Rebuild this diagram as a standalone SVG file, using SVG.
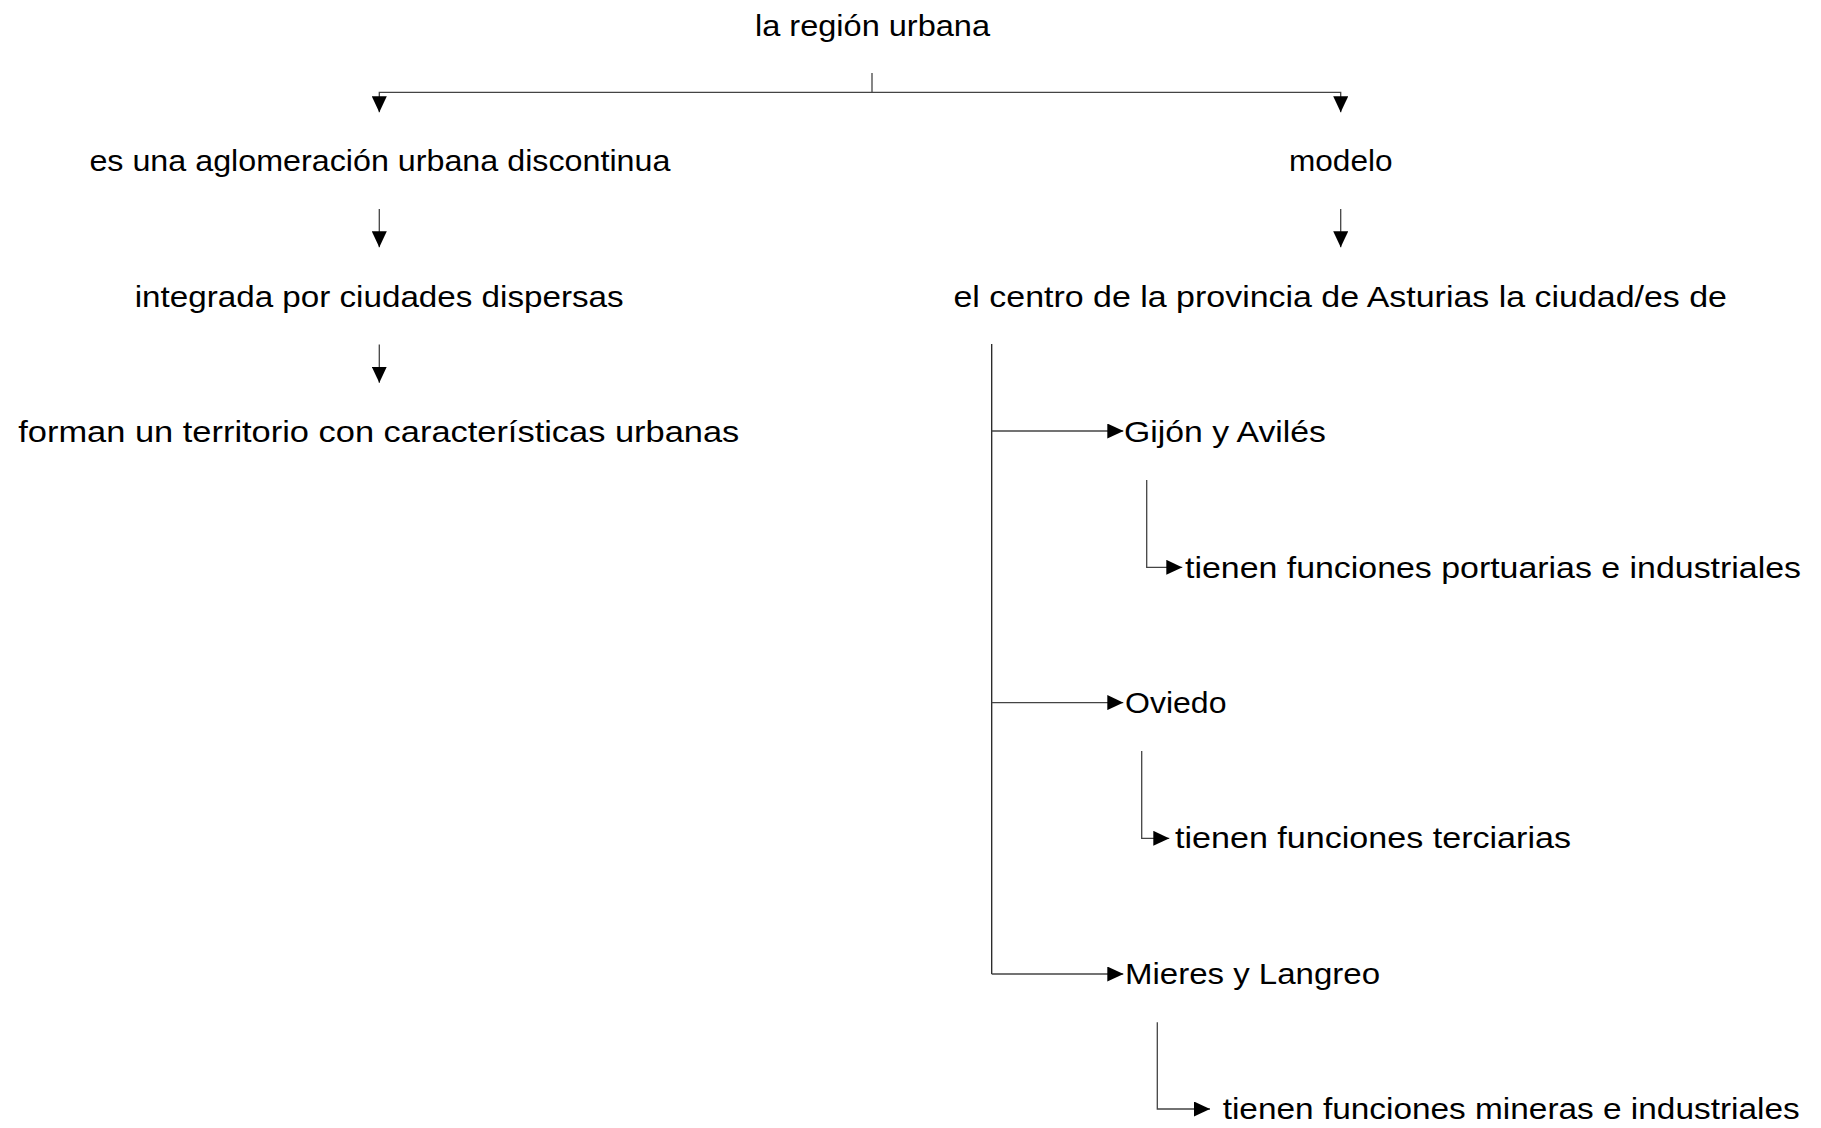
<svg xmlns="http://www.w3.org/2000/svg" width="1821" height="1128" viewBox="0 0 1821 1128">
<style>
  .t { font-family: "Liberation Sans", Arial, sans-serif; font-size: 30px; fill: #000; }
  .c { fill: none; stroke: #444; stroke-width: 1.3; }
</style>
<defs>
  <marker id="ah" viewBox="0 0 16 15" refX="16" refY="7.5" markerWidth="16" markerHeight="15" markerUnits="userSpaceOnUse" orient="auto">
    <path d="M0,0 L16,7.5 L0,15 z" fill="#000"/>
  </marker>
</defs>
<rect width="1821" height="1128" fill="#fff"/>
<g id="connectors">
  <path class="c" d="M872,73 V92.3"/>
  <path class="c" d="M872,92.3 H379.3 V112.3" marker-end="url(#ah)"/>
  <path class="c" d="M872,92.3 H1340.7 V112.3" marker-end="url(#ah)"/>
  <path class="c" d="M379.3,209 V247.3" marker-end="url(#ah)"/>
  <path class="c" d="M379.3,344.4 V382.7" marker-end="url(#ah)"/>
  <path class="c" d="M1340.7,209 V247.3" marker-end="url(#ah)"/>
  <path class="c" d="M991.7,344 V974" style="stroke:#222"/>
  <path class="c" d="M991.7,431 H1123.3" marker-end="url(#ah)"/>
  <path class="c" d="M991.7,702.6 H1123.3" marker-end="url(#ah)"/>
  <path class="c" d="M991.7,974 H1123.3" marker-end="url(#ah)"/>
  <path class="c" d="M1146.7,480 V567.3 H1182.3" marker-end="url(#ah)"/>
  <path class="c" d="M1141.7,751 V838.3 H1169.3" marker-end="url(#ah)"/>
  <path class="c" d="M1157.3,1022.3 V1109 H1210" marker-end="url(#ah)"/>
</g>
<g id="n1"><text class="t" x="755" y="36" textLength="235" lengthAdjust="spacingAndGlyphs">la región urbana</text></g>
<g id="n2"><text class="t" x="89.4" y="171.4" textLength="581" lengthAdjust="spacingAndGlyphs">es una aglomeración urbana discontinua</text></g>
<g id="n3"><text class="t" x="1289" y="171.4" textLength="103.5" lengthAdjust="spacingAndGlyphs">modelo</text></g>
<g id="n4"><text class="t" x="134.7" y="306.8" textLength="489" lengthAdjust="spacingAndGlyphs">integrada por ciudades dispersas</text></g>
<g id="n5"><text class="t" x="953.5" y="306.8" textLength="773.5" lengthAdjust="spacingAndGlyphs">el centro de la provincia de Asturias la ciudad/es de</text></g>
<g id="n6"><text class="t" x="18.3" y="442.2" textLength="721" lengthAdjust="spacingAndGlyphs">forman un territorio con características urbanas</text></g>
<g id="n7"><text class="t" x="1124" y="442.2" textLength="202" lengthAdjust="spacingAndGlyphs">Gijón y Avilés</text></g>
<g id="n8"><text class="t" x="1185" y="577.6" textLength="616" lengthAdjust="spacingAndGlyphs">tienen funciones portuarias e industriales</text></g>
<g id="n9"><text class="t" x="1125" y="713" textLength="101.5" lengthAdjust="spacingAndGlyphs">Oviedo</text></g>
<g id="n10"><text class="t" x="1175" y="848.4" textLength="396" lengthAdjust="spacingAndGlyphs">tienen funciones terciarias</text></g>
<g id="n11"><text class="t" x="1125" y="983.8" textLength="255" lengthAdjust="spacingAndGlyphs">Mieres y Langreo</text></g>
<g id="n12"><text class="t" x="1222.7" y="1119.2" textLength="577" lengthAdjust="spacingAndGlyphs">tienen funciones mineras e industriales</text></g>
</svg>
